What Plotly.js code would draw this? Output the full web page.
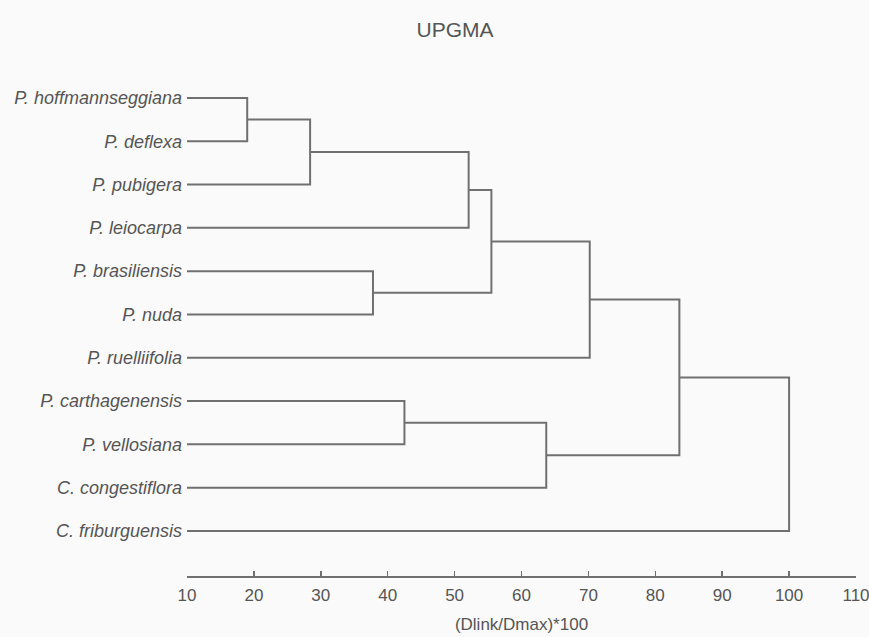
<!DOCTYPE html>
<html>
<head>
<meta charset="utf-8">
<script src="https://cdn.plot.ly/plotly-3.0.1.min.js"></script>
<style>html,body{margin:0;padding:0;background:#fafafa;}#chart{width:869px;height:637px;}</style>
</head>
<body>
<div id="chart"></div>
<script>
// Leaves in dendrogram order (top to bottom)
const leaves = [
  "P. hoffmannseggiana", "P. deflexa", "P. pubigera", "P. leiocarpa",
  "P. brasiliensis", "P. nuda", "P. ruelliifolia", "P. carthagenensis",
  "P. vellosiana", "C. congestiflora", "C. friburguensis"
];
// Leaf distance (start of branches)
const leafHeight = 10;
// Merges: [left node, right node, height]; nodes >= 100 refer to previous merges (100 + index)
const mergeLeft   = [0,   100, 101, 4,   102, 104, 7,   106, 105, 108];
const mergeRight  = [1,   2,   3,   5,   103, 6,   8,   9,   107, 10];
const mergeHeight = [19.0, 28.4, 52.1, 37.8, 55.5, 70.2, 42.5, 63.7, 83.6, 100.0];

const tickVals = [10,20,30,40,50,60,70,80,90,100,110];

// Build dendrogram segments
const nodeY = {}, nodeH = {};
leaves.forEach((n, i) => { nodeY[i] = i; nodeH[i] = leafHeight; });
const xs = [], ys = [];
for (let k = 0; k < mergeHeight.length; k++) {
  const a = mergeLeft[k], b = mergeRight[k], h = mergeHeight[k];
  const ya = nodeY[a], yb = nodeY[b];
  xs.push(nodeH[a], h, h, nodeH[b], null);
  ys.push(ya, ya, yb, yb, null);
  nodeY[100 + k] = (ya + yb) / 2;
  nodeH[100 + k] = h;
}

const lineColor = "#707070";
const textColor = "#555555";
const font = "Liberation Sans, Arial, sans-serif";

const trace = {
  x: xs, y: ys, type: "scatter", mode: "lines",
  line: { color: lineColor, width: 2 },
  hoverinfo: "skip", showlegend: false
};

const layout = {
  width: 869, height: 637,
  paper_bgcolor: "#fafafa", plot_bgcolor: "#fafafa",
  margin: { l: 187, r: 13, t: 60, b: 61 },
  title: {
    text: "UPGMA", x: 455 / 869, xanchor: "center", xref: "container",
    y: 1 - 30 / 637, yanchor: "middle", yref: "container",
    font: { family: font, size: 21, color: textColor }
  },
  xaxis: {
    range: [10, 110], tickvals: tickVals, ticktext: tickVals.map(String),
    showgrid: false, zeroline: false,
    showline: true, linecolor: lineColor, linewidth: 2,
    ticks: "inside", ticklen: 5, tickwidth: 1.5, tickcolor: lineColor,
    ticklabelstandoff: 3, ticklabeloverflow: "allow",
    tickfont: { family: font, size: 17, color: textColor },
    title: { text: "(Dlink/Dmax)*100", standoff: 14, font: { family: font, size: 17, color: textColor } }
  },
  yaxis: {
    range: [11.04, -0.877], tickvals: leaves.map((_, i) => i),
    ticktext: leaves.map(s => "<i>" + s + "</i>"),
    showgrid: false, zeroline: false, showline: false, ticks: "",
    ticklabelstandoff: 4,
    tickfont: { family: font, size: 18, color: textColor }
  }
};

Plotly.newPlot("chart", [trace], layout, { displayModeBar: false, staticPlot: true });
</script>
</body>
</html>
